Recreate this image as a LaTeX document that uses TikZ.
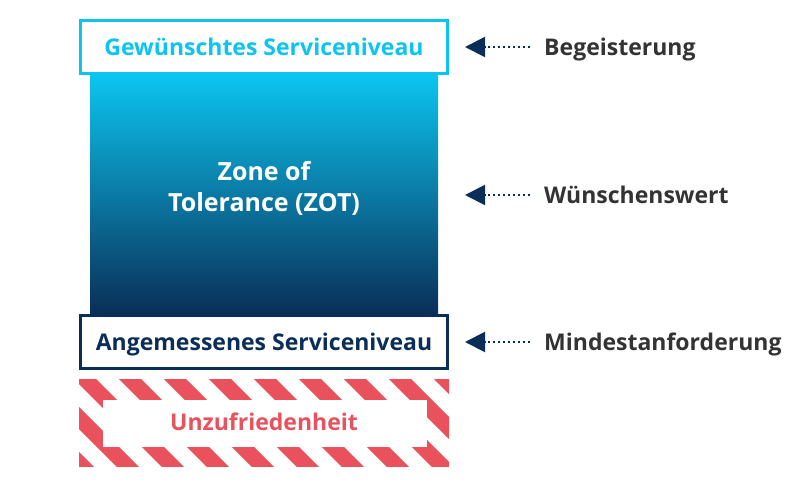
\documentclass[tikz,border=0pt]{standalone}
\usepackage{fontspec}
\setmainfont{Open Sans}
\usetikzlibrary{positioning,arrows.meta}
\definecolor{zcyan}{HTML}{0BC5F0}
\definecolor{znavy}{HTML}{0A2E57}
\definecolor{zred}{HTML}{E9525C}
\definecolor{zgray}{HTML}{333333}

\begin{document}
\begin{tikzpicture}[x=1pt,y=-1pt,
   level/.style={draw,line width=3pt,fill=white,minimum width=367pt,minimum height=53pt,
                 inner sep=0pt,text height=17pt,text depth=0pt,font=\fontsize{23}{27}\bfseries},
   tag/.style={anchor=west,inner sep=0pt,text height=17pt,text depth=0pt,
               text=zgray,font=\fontsize{23}{27}\bfseries},
   zone/.style={anchor=base,text=white,font=\fontsize{25}{30}\bfseries},
   pointer/.style={znavy,line width=2pt,dash pattern=on 2pt off 3pt,
                   -{Triangle[length=20pt,width=20pt,sep=0pt]}}]
   \useasboundingbox (0,0) rectangle (800,486);
   % zone of tolerance
   \shade[top color=zcyan,bottom color=znavy] (90,75) rectangle (438,315);
   \node [zone] (zone) at (264,180.7) {Zone of};
   \node [zone] (zot) at (264,211.7) {Tolerance (ZOT)};
   \node [level,draw=zcyan,text=zcyan] (top) at (264,47) {Gewünschtes Serviceniveau};
   \node [level,draw=znavy,text=znavy] (bottom) at (264,342) {Angemessenes Serviceniveau};
   % hatched band
   \begin{scope}
      \clip (79,379) rectangle (449,466);
      \foreach \k in {-4,...,8}
         \draw [zred,line width=15.9pt] ({130+45*\k-20},359) -- ({130+45*\k+120},499);
   \end{scope}
   \fill [white] (103,400) rectangle (427,447);
   \node [text=zred,inner sep=0pt,text height=17pt,text depth=0pt,font=\fontsize{23}{27}\bfseries]
      (unzu) at (264,422) {Unzufriedenheit};
   % labels
   \node [tag] (begeist) at (544,47) {Begeisterung};
   \node [tag] (wuensch) at (544,195) {Wünschenswert};
   \node [tag] (mindest) at (544,342) {Mindestanforderung};
   \coordinate (tipA) at (465,47);
   \coordinate (tipB) at (465,195);
   \coordinate (tipC) at (465,342);
   \draw [pointer] ([xshift=-14pt]begeist.west) -- (tipA);
   \draw [pointer] ([xshift=-14pt]wuensch.west) -- (tipB);
   \draw [pointer] ([xshift=-14pt]mindest.west) -- (tipC);
\end{tikzpicture}
\end{document}
